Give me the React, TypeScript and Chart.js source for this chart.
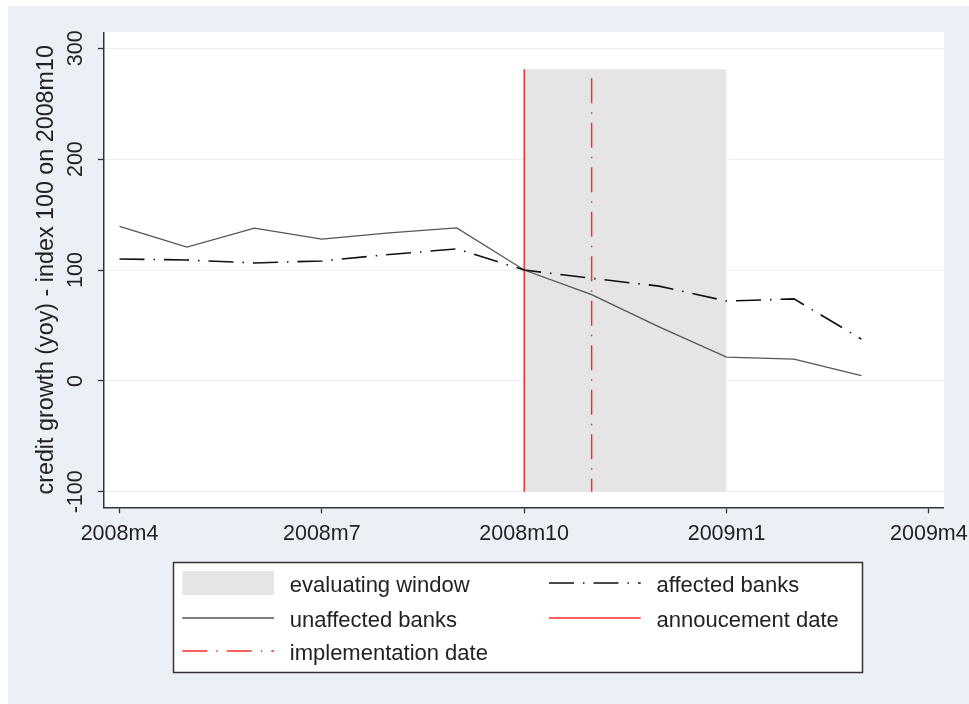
import React, { useEffect, useRef } from "react";
import { Chart, registerables } from "chart.js";

Chart.register(...registerables);

// ---- data ----
const months = ["2008m4", "2008m5", "2008m6", "2008m7", "2008m8", "2008m9", "2008m10", "2008m11", "2008m12", "2009m1", "2009m2", "2009m3"];
const unaffectedBanks = [139.3, 120.6, 137.7, 127.8, 133.5, 138.0, 100.0, 77.8, 48.8, 21.4, 19.6, 4.8];
const affectedBanks = [110.0, 109.0, 106.4, 108.2, 114.0, 119.1, 100.0, 92.5, 85.5, 72.0, 74.0, 37.7];
const xTickIndex = [0, 3, 6, 9, 12];
const xTickLabels = ["2008m4", "2008m7", "2008m10", "2009m1", "2009m4"];
const yTicks = [-100, 0, 100, 200, 300];
const windowStartMonth = 6;
const windowEndMonth = 9;
const windowTop = 281;
const windowBottom = -100;
const announcementMonth = 6;
const announcementTop = 281;
const implementationMonth = 7;
const implementationTop = 273;
const verticalLineBottom = -100;
const legendOrder = ["evaluating window", "affected banks", "unaffected banks", "annoucement date", "implementation date"];
const yTitle = "credit growth (yoy) - index 100 on 2008m10";

// ---- style ----
const FONT = '"Liberation Sans", Arial, Helvetica, sans-serif';
const BG = "#ebf0f6";
const TEXT = "#222222";
const AXIS = "#333333";
const DASH_DOT = [25, 9, 1.5, 9];
const W = 961;
const H = 698;

const yTickLabelPlugin = {
  id: "yTickLabels",
  afterDraw(chart: any) {
    const { ctx, chartArea } = chart;
    const y = chart.scales.y;
    ctx.save();
    ctx.fillStyle = TEXT;
    ctx.font = `21.5px ${FONT}`;
    ctx.textAlign = "center";
    ctx.textBaseline = "alphabetic";
    y.ticks.forEach((t: any) => {
      const py = y.getPixelForValue(t.value);
      ctx.save();
      ctx.translate(chartArea.left - 22.3, py);
      ctx.rotate(-Math.PI / 2);
      ctx.fillText(String(t.value), 0, 0);
      ctx.restore();
    });
    ctx.restore();
  },
};

const legendPlugin = {
  id: "stataLegend",
  afterDraw(chart: any) {
    const { ctx } = chart;
    const box = { x: 165.5, y: 556.5, w: 689, h: 110 };
    const colX = [174.3, 541];
    const rowY = [577, 612, 645];
    const symW = 91.7;
    const textOff = 107.5;
    ctx.save();
    ctx.fillStyle = "#ffffff";
    ctx.fillRect(box.x, box.y, box.w, box.h);
    ctx.strokeStyle = AXIS;
    ctx.lineWidth = 1.5;
    ctx.strokeRect(box.x, box.y, box.w, box.h);
    legendOrder.forEach((label, i) => {
      const ds: any = chart.data.datasets.find((d: any) => d.label === label);
      if (!ds) return;
      const cx = colX[i % 2];
      const cy = rowY[Math.floor(i / 2)];
      if (ds.fill) {
        ctx.fillStyle = ds.backgroundColor;
        ctx.fillRect(cx, cy - 12, symW, 24);
      } else {
        ctx.save();
        ctx.strokeStyle = ds.borderColor;
        ctx.lineWidth = ds.borderWidth;
        ctx.setLineDash(ds.borderDash || []);
        ctx.beginPath();
        ctx.moveTo(cx, cy);
        ctx.lineTo(cx + symW, cy);
        ctx.stroke();
        ctx.restore();
      }
      ctx.fillStyle = TEXT;
      ctx.font = `22px ${FONT}`;
      ctx.textAlign = "left";
      ctx.textBaseline = "alphabetic";
      ctx.fillText(label, cx + textOff, cy + 8.7);
    });
    ctx.restore();
  },
};

export default function App() {
  const ref = useRef<HTMLCanvasElement | null>(null);

  useEffect(() => {
    if (!ref.current) return;
    const chart = new Chart(ref.current, {
      type: "line",
      data: {
        datasets: [
          {
            label: "affected banks",
            data: months.map((_, i) => ({ x: i, y: affectedBanks[i] })),
            borderColor: "#111111",
            borderWidth: 1.6,
            borderDash: DASH_DOT,
            pointRadius: 0,
            fill: false,
            tension: 0,
            order: 0,
          },
          {
            label: "unaffected banks",
            data: months.map((_, i) => ({ x: i, y: unaffectedBanks[i] })),
            borderColor: "#555555",
            borderWidth: 1.3,
            pointRadius: 0,
            fill: false,
            tension: 0,
            order: 1,
          },
          {
            label: "implementation date",
            data: [
              { x: implementationMonth, y: implementationTop },
              { x: implementationMonth, y: verticalLineBottom },
            ],
            borderColor: "#ff2a2a",
            borderWidth: 1.5,
            borderDash: DASH_DOT,
            pointRadius: 0,
            fill: false,
            order: 2,
          },
          {
            label: "annoucement date",
            data: [
              { x: announcementMonth, y: verticalLineBottom },
              { x: announcementMonth, y: announcementTop },
            ],
            borderColor: "#ff2a2a",
            borderWidth: 1.5,
            pointRadius: 0,
            fill: false,
            order: 3,
          },
          {
            label: "evaluating window",
            data: [
              { x: windowStartMonth, y: windowTop },
              { x: windowEndMonth, y: windowTop },
            ],
            borderWidth: 0,
            borderColor: "rgba(0,0,0,0)",
            backgroundColor: "#e5e5e5",
            pointRadius: 0,
            fill: { value: windowBottom },
            order: 4,
          },
        ] as any,
      },
      options: {
        animation: false,
        responsive: false,
        devicePixelRatio: 1,
        events: [],
        layout: { padding: { left: 0, top: 26.3, right: 25.3, bottom: 120 } },
        plugins: { legend: { display: false }, tooltip: { enabled: false }, title: { display: false } },
        scales: {
          x: {
            type: "linear",
            min: -0.23,
            max: 12.22,
            afterBuildTicks: (s: any) => {
              s.ticks = xTickIndex.map((v) => ({ value: v }));
            },
            afterFit: (s: any) => {
              s.height = H - 120 - 501.3;
              s.paddingLeft = 0;
              s.paddingRight = 0;
            },
            ticks: {
              autoSkip: false,
              maxRotation: 0,
              minRotation: 0,
              padding: 8,
              color: TEXT,
              font: { family: FONT, size: 21.5 },
              callback: (v: any) => {
                const k = xTickIndex.indexOf(Number(v));
                return k >= 0 ? xTickLabels[k] : "";
              },
            },
            grid: { drawOnChartArea: false, drawTicks: true, tickLength: 6, tickColor: AXIS, tickWidth: 1.3 },
            border: { display: true, color: AXIS, width: 1.5 },
          },
          y: {
            type: "linear",
            min: -114,
            max: 314.4,
            afterBuildTicks: (s: any) => {
              s.ticks = yTicks.map((v) => ({ value: v }));
            },
            afterFit: (s: any) => {
              s.width = 96;
              s.paddingTop = 0;
              s.paddingBottom = 0;
            },
            ticks: { display: false },
            title: {
              display: true,
              text: yTitle,
              color: TEXT,
              font: { family: FONT, size: 23.3 },
              padding: { top: 24.4, bottom: 0 },
            },
            grid: { color: "#e9eff6", lineWidth: 1, drawTicks: true, tickLength: 6, tickColor: AXIS, tickWidth: 1.3 },
            border: { display: true, color: AXIS, width: 1.5 },
          },
        },
      } as any,
      plugins: [yTickLabelPlugin, legendPlugin],
    });
    return () => chart.destroy();
  }, []);

  return (
    <div style={{ position: "fixed", left: 8, top: 6, width: W, height: H, background: BG }}>
      <div
        style={{
          position: "absolute",
          left: 96,
          top: 26.3,
          width: 935.7 - 96,
          height: 501.3 - 26.3,
          background: "#ffffff",
        }}
      />
      <canvas ref={ref} width={W} height={H} style={{ position: "absolute", left: 0, top: 0, width: W, height: H, display: "block" }} />
    </div>
  );
}
